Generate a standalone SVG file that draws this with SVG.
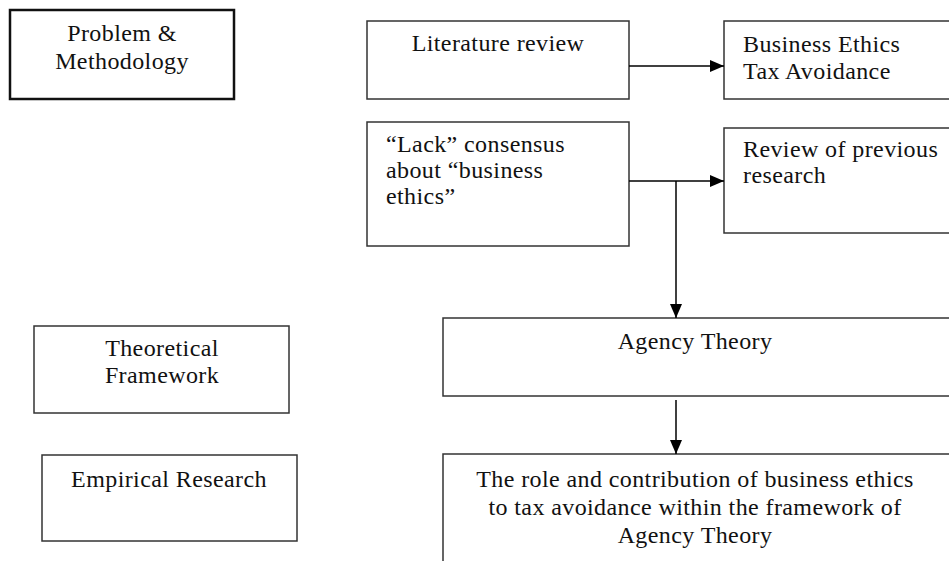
<svg xmlns="http://www.w3.org/2000/svg" width="949" height="561" viewBox="0 0 949 561">
<defs>
<style>
.box{fill:#fff;stroke:#333;stroke-width:1.5}
.thick{stroke:#111;stroke-width:2.5}
.t{font-family:"Liberation Serif","Times New Roman",serif;font-size:24px;fill:#111;letter-spacing:0.4px}
.c{text-anchor:middle}
.conn{fill:none;stroke:#000;stroke-width:1.5}
</style>
<marker id="ah" viewBox="0 0 14 12" refX="14" refY="6" markerWidth="14" markerHeight="12" markerUnits="userSpaceOnUse" orient="auto">
<path d="M0,0 L14,6 L0,12 z" fill="#000"/>
</marker>
</defs>
<rect width="949" height="561" fill="#fff"/>
<g id="problem">
<rect class="box thick" x="10" y="10" width="224" height="89"/>
<text class="t c" x="122" y="41">Problem &amp;</text>
<text class="t c" x="122" y="69">Methodology</text>
</g>
<g id="literature">
<rect class="box" x="367" y="21" width="262" height="78"/>
<text class="t c" x="498" y="51">Literature review</text>
</g>
<g id="business">
<rect class="box" x="724" y="21" width="226" height="78"/>
<text class="t" x="743" y="52">Business Ethics</text>
<text class="t" x="743" y="79">Tax Avoidance</text>
</g>
<g id="lack">
<rect class="box" x="367" y="122" width="262" height="124"/>
<text class="t" x="386" y="152">“Lack” consensus</text>
<text class="t" x="386" y="178">about “business</text>
<text class="t" x="386" y="204">ethics”</text>
</g>
<g id="review">
<rect class="box" x="724" y="128" width="226" height="105"/>
<text class="t" x="743" y="157">Review of previous</text>
<text class="t" x="743" y="183">research</text>
</g>
<g id="theoretical">
<rect class="box" x="34" y="326" width="255" height="87"/>
<text class="t c" x="162" y="356">Theoretical</text>
<text class="t c" x="162" y="383">Framework</text>
</g>
<g id="agency">
<rect class="box" x="443" y="318" width="507" height="78"/>
<text class="t c" x="695" y="349">Agency Theory</text>
</g>
<g id="empirical">
<rect class="box" x="42" y="455" width="255" height="86"/>
<text class="t c" x="169" y="487">Empirical Research</text>
</g>
<g id="role">
<rect class="box" x="443" y="454" width="507" height="110"/>
<text class="t c" x="695" y="487">The role and contribution of business ethics</text>
<text class="t c" x="695" y="515">to tax avoidance within the framework of</text>
<text class="t c" x="695" y="543">Agency Theory</text>
</g>
<g id="connectors">
<line class="conn" x1="629" y1="66" x2="724" y2="66" marker-end="url(#ah)"/>
<line class="conn" x1="629" y1="181" x2="724" y2="181" marker-end="url(#ah)"/>
<line class="conn" x1="676" y1="181" x2="676" y2="318" marker-end="url(#ah)"/>
<line class="conn" x1="676" y1="400" x2="676" y2="454" marker-end="url(#ah)"/>
</g>
</svg>
